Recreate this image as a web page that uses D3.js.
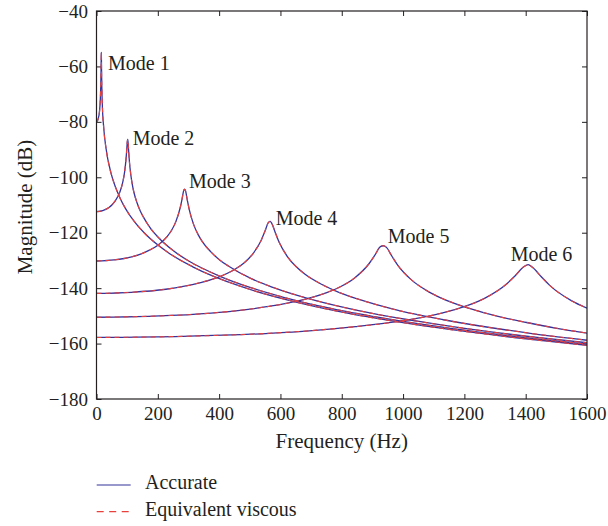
<!DOCTYPE html>
<html>
<head>
<meta charset="utf-8">
<script src="https://cdn.jsdelivr.net/npm/d3@7"></script>
<style>
  body { margin: 0; background: #fff; }
  text { font-family: "Liberation Serif", "DejaVu Serif", serif; fill: #231f20; }
</style>
</head>
<body>
<svg id="chart" width="608" height="526"></svg>
<script>
// tick values
const xTicks = [0, 200, 400, 600, 800, 1000, 1200, 1400, 1600];
const yTicks = [-180, -160, -140, -120, -100, -80, -60, -40];

// magnitude curves, [frequency (Hz), magnitude (dB)]
const mode1 = [[0,-80.3],[7.9,-77.8],[12.6,-71.5],[14.1,-66.1],[14.9,-61.0],[15.4,-56.8],[15.7,-54.9],[16.0,-57.0],[16.5,-61.5],[17.3,-67.0],[18.8,-73.3],[23.6,-82.2],[31.4,-89.8],[47.1,-98.4],[62.8,-103.8],[78.5,-107.9],[94.2,-111.2],[125.6,-116.3],[157,-120.2],[235.5,-127.3],[314,-132.3],[471,-139.4],[628,-144.4],[785,-148.3],[1099,-154.1],[1370,-157.9],[1600,-160.6]];
const mode2 = [[0,-112.4],[20.3,-112.0],[40.7,-110.9],[50.9,-109.9],[61.0,-108.5],[71.2,-106.6],[81.4,-103.6],[86.4,-101.4],[91.5,-98.2],[96.6,-93.1],[98.6,-90.1],[100.7,-86.9],[101.7,-86.3],[102.7,-87.1],[104.8,-90.4],[106.8,-93.6],[111.9,-99.1],[117.0,-102.7],[122.0,-105.4],[132.2,-109.2],[142.4,-112.1],[152.6,-114.3],[178.0,-118.7],[203.4,-121.9],[254.3,-126.8],[305.1,-130.5],[406.8,-135.9],[508.5,-140.0],[610.2,-143.3],[813.6,-148.4],[1017,-152.3],[1322,-156.9],[1600,-160.2]];
const mode3 = [[0,-130.2],[57.5,-129.8],[115,-128.7],[143.8,-127.7],[172.6,-126.3],[201.3,-124.4],[230.1,-121.4],[244.5,-119.2],[258.8,-116.0],[273.2,-110.9],[279.0,-107.9],[284.7,-104.7],[287.6,-104.3],[290.5,-104.9],[296.2,-108.2],[302.0,-111.4],[316.4,-116.9],[330.7,-120.5],[345.1,-123.2],[373.9,-127.0],[402.6,-129.9],[431.4,-132.1],[503.3,-136.5],[575.2,-139.7],[719,-144.6],[862.8,-148.3],[1150.4,-153.7],[1438,-157.8],[1600,-159.7]];
const mode4 = [[0,-141.9],[113.2,-141.5],[226.4,-140.4],[283,-139.4],[339.6,-138.0],[396.2,-136.1],[452.8,-133.1],[481.1,-130.9],[509.4,-127.7],[537.7,-122.6],[549,-119.6],[560.3,-116.4],[566,-115.9],[571.7,-116.6],[583,-119.9],[594.3,-123.1],[622.6,-128.6],[650.9,-132.2],[679.2,-134.9],[735.8,-138.7],[792.4,-141.6],[849,-143.8],[990.5,-148.2],[1132,-151.4],[1415,-156.3],[1600,-158.8]];
const mode5 = [[0,-150.5],[187.1,-150.1],[374.2,-149.0],[467.8,-148.0],[561.4,-146.6],[654.9,-144.7],[748.5,-141.7],[795.3,-139.5],[842,-136.3],[888.8,-131.2],[907.5,-128.2],[926.2,-125.0],[935.6,-124.7],[945,-125.2],[963.7,-128.5],[982.4,-131.7],[1029.2,-137.2],[1075.9,-140.8],[1122.7,-143.5],[1216.3,-147.3],[1309.8,-150.2],[1403.4,-152.4],[1497,-154.4],[1600,-156.2]];
const mode6 = [[0,-157.8],[281.6,-157.4],[563.2,-156.3],[704,-155.3],[844.8,-153.9],[985.6,-152.0],[1126.4,-149.0],[1196.8,-146.8],[1267.2,-143.6],[1337.6,-138.5],[1365.8,-135.5],[1393.9,-132.3],[1408,-131.5],[1422.1,-132.5],[1450.2,-135.8],[1478.4,-139.0],[1548.8,-144.5],[1600,-147.2]];

// annotation labels: [text, frequency, dB] at the label's left baseline
const modeLabels = [["Mode 1",37.5,-61.3],["Mode 2",118,-88.4],["Mode 3",301.7,-104.0],["Mode 4",584.5,-117.2],["Mode 5",950,-123.6],["Mode 6",1351,-130.1]];

const legendNames = ["Accurate", "Equivalent viscous"];

// ---- layout
const margin = {left: 96.5, right: 21, top: 11, bottom: 127};
const W = 608, H = 526;
const svg = d3.select("#chart");

const x = d3.scaleLinear().domain([0, 1600]).range([margin.left, W - margin.right]);
const y = d3.scaleLinear().domain([-180, -40]).range([H - margin.bottom, margin.top]);

const blue = "#35339c";
const red = "#e8413c";
const fmt = d3.format("d");

svg.append("clipPath").attr("id", "clip")
  .append("rect")
  .attr("x", x(0)).attr("y", y(-40))
  .attr("width", x(1600) - x(0)).attr("height", y(-180) - y(-40));

// axes, inward ticks on all four sides
const axisB = svg.append("g").attr("transform", `translate(0,${y(-180)})`)
  .call(d3.axisBottom(x).tickValues(xTicks).tickFormat(fmt).tickSizeInner(-5).tickSizeOuter(0).tickPadding(7.5));
const axisT = svg.append("g").attr("transform", `translate(0,${y(-40)})`)
  .call(d3.axisTop(x).tickValues(xTicks).tickSizeInner(-5).tickSizeOuter(0).tickFormat(""));
const axisL = svg.append("g").attr("transform", `translate(${x(0)},0)`)
  .call(d3.axisLeft(y).tickValues(yTicks).tickFormat(d => fmt(d).replace("-", "\u2212")).tickSizeInner(-5).tickSizeOuter(0).tickPadding(8.5));
const axisR = svg.append("g").attr("transform", `translate(${x(1600)},0)`)
  .call(d3.axisRight(y).tickValues(yTicks).tickSizeInner(-5).tickSizeOuter(0).tickFormat(""));

[axisB, axisT, axisL, axisR].forEach(g => {
  g.select(".domain").remove();
  g.selectAll(".tick line").attr("stroke", "#231f20").attr("stroke-width", 1);
  g.selectAll(".tick text").attr("font-family", "Liberation Serif").attr("font-size", 19).attr("fill", "#231f20");
});

// curves
const line = d3.line()
  .x(d => x(d[0]))
  .y(d => y(d[1]))
  .curve(d3.curveMonotoneX);

const modes = [mode1, mode2, mode3, mode4, mode5, mode6];
const plot = svg.append("g").attr("clip-path", "url(#clip)");

// accurate (solid blue)
plot.selectAll("path.acc").data(modes).enter().append("path")
  .attr("class", "acc")
  .attr("d", line)
  .attr("fill", "none")
  .attr("stroke", blue)
  .attr("stroke-width", 1.3);

// equivalent viscous (dashed red), lies on top of the accurate curves
plot.selectAll("path.eqv").data(modes).enter().append("path")
  .attr("class", "eqv")
  .attr("d", line)
  .attr("fill", "none")
  .attr("stroke", red)
  .attr("stroke-width", 1.1)
  .attr("stroke-dasharray", "5,4");

// frame
svg.append("rect")
  .attr("x", x(0)).attr("y", y(-40))
  .attr("width", x(1600) - x(0)).attr("height", y(-180) - y(-40))
  .attr("fill", "none").attr("stroke", "#231f20").attr("stroke-width", 1.2);

// mode labels
svg.selectAll("text.mode").data(modeLabels).enter().append("text")
  .attr("class", "mode")
  .attr("x", d => x(d[1]))
  .attr("y", d => y(d[2]))
  .attr("font-size", 20)
  .text(d => d[0]);

// axis titles
svg.append("text")
  .attr("x", (x(0) + x(1600)) / 2)
  .attr("y", 448)
  .attr("text-anchor", "middle")
  .attr("font-size", 21)
  .text("Frequency (Hz)");

svg.append("text")
  .attr("transform", `translate(32,${(y(-40) + y(-180)) / 2 + 2}) rotate(-90)`)
  .attr("text-anchor", "middle")
  .attr("font-size", 21)
  .text("Magnitude (dB)");

// legend
const lg = svg.append("g");
legendNames.forEach((name, i) => {
  const ly = 485 + i * 26.7;
  lg.append("line")
    .attr("x1", 96.7).attr("x2", 130.7)
    .attr("y1", ly).attr("y2", ly)
    .attr("stroke", i === 0 ? blue : red)
    .attr("stroke-width", 1.2)
    .attr("stroke-dasharray", i === 0 ? null : "7,5.5");
  lg.append("text")
    .attr("x", 145)
    .attr("y", ly + 4.3)
    .attr("font-size", 20)
    .text(name);
});
</script>
</body>
</html>
